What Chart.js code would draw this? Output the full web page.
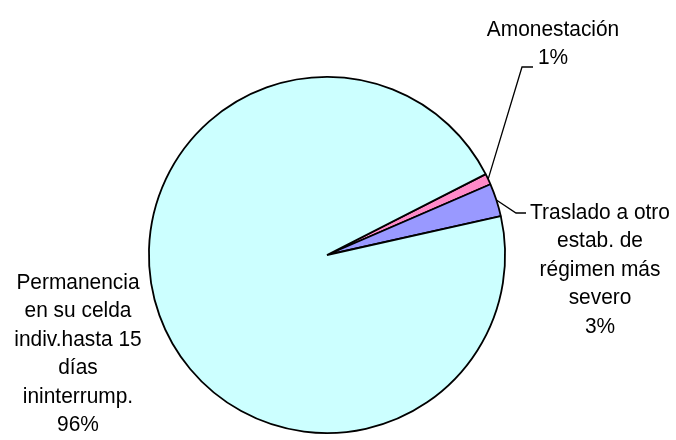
<!DOCTYPE html>
<html>
<head>
<meta charset="utf-8">
<script src="https://cdn.jsdelivr.net/npm/chart.js@4/dist/chart.umd.min.js"></script>
<style>
html,body{margin:0;padding:0;background:#fff;}
#wrap{width:676px;height:440px;}
</style>
</head>
<body>
<div id="wrap"><canvas id="pieChart" width="676" height="440"></canvas></div>
<script>
const categories = ["Amonestación", "Traslado a otro estab. de régimen más severo", "Permanencia en su celda indiv.hasta 15 días ininterrump."];
const values = [1, 3, 96];
const colors = ["#FF8AC8", "#9999FF", "#CCFFFF"];

// label text lines, per slice (percent gets added as last line)
const labelLines = [
  ["Amonestación"],
  ["Traslado a otro", "estab. de", "régimen más", "severo"],
  ["Permanencia", "en su celda", "indiv.hasta 15", "días", "ininterrump."]
];

const total = values.reduce((a, b) => a + b, 0);

/* label block: center x, first line y, leader elbow */
const labelPos = [
  {x: 553, y: 30, elbow: [522, 67], end: [533, 67]},
  {x: 600, y: 213, elbow: [516, 213], end: [526, 213]},
  {x: 78, y: 283, elbow: null}
];

const sx = 0.95; // text is a bit narrow in the original

const pieLabels = {
  id: "pieLabels",
  afterDatasetsDraw(chart) {
    const c = chart.ctx;
    const meta = chart.getDatasetMeta(0);
    meta.data.forEach((arc, i) => {
      const p = labelPos[i];
      const lines = labelLines[i].concat([Math.round(values[i] / total * 100) + "%"]);
      c.save();
      c.font = "22px 'Liberation Sans', Arial, sans-serif";
      c.fillStyle = "#000";
      c.textAlign = "center";
      c.textBaseline = "middle";
      c.translate(p.x, 0);
      c.scale(sx, 1);
      lines.forEach((t, k) => c.fillText(t, 0, p.y + k * 28.4));
      c.restore();
      if (p.elbow) {
        const {x, y, startAngle, endAngle, outerRadius} = arc.getProps(["x", "y", "startAngle", "endAngle", "outerRadius"], true);
        const mid = (startAngle + endAngle) / 2;
        c.save();
        c.beginPath();
        c.strokeStyle = "#000";
        c.lineWidth = 1.3;
        c.moveTo(x + Math.cos(mid) * outerRadius, y + Math.sin(mid) * outerRadius);
        c.lineTo(p.elbow[0], p.elbow[1]);
        c.lineTo(p.end[0], p.end[1]);
        c.stroke();
        c.restore();
      }
    });
  }
};

new Chart(document.getElementById("pieChart"), {
  type: "pie",
  data: {
    labels: categories,
    datasets: [{
      data: values,
      backgroundColor: colors,
      borderColor: "#000",
      borderWidth: 1.8
    }]
  },
  options: {
    responsive: false,
    animation: false,
    rotation: 63,
    layout: {padding: {top: 76, bottom: 6, left: 148, right: 170}},
    plugins: {
      legend: {display: false},
      tooltip: {enabled: false}
    }
  },
  plugins: [pieLabels]
});
</script>
</body>
</html>
